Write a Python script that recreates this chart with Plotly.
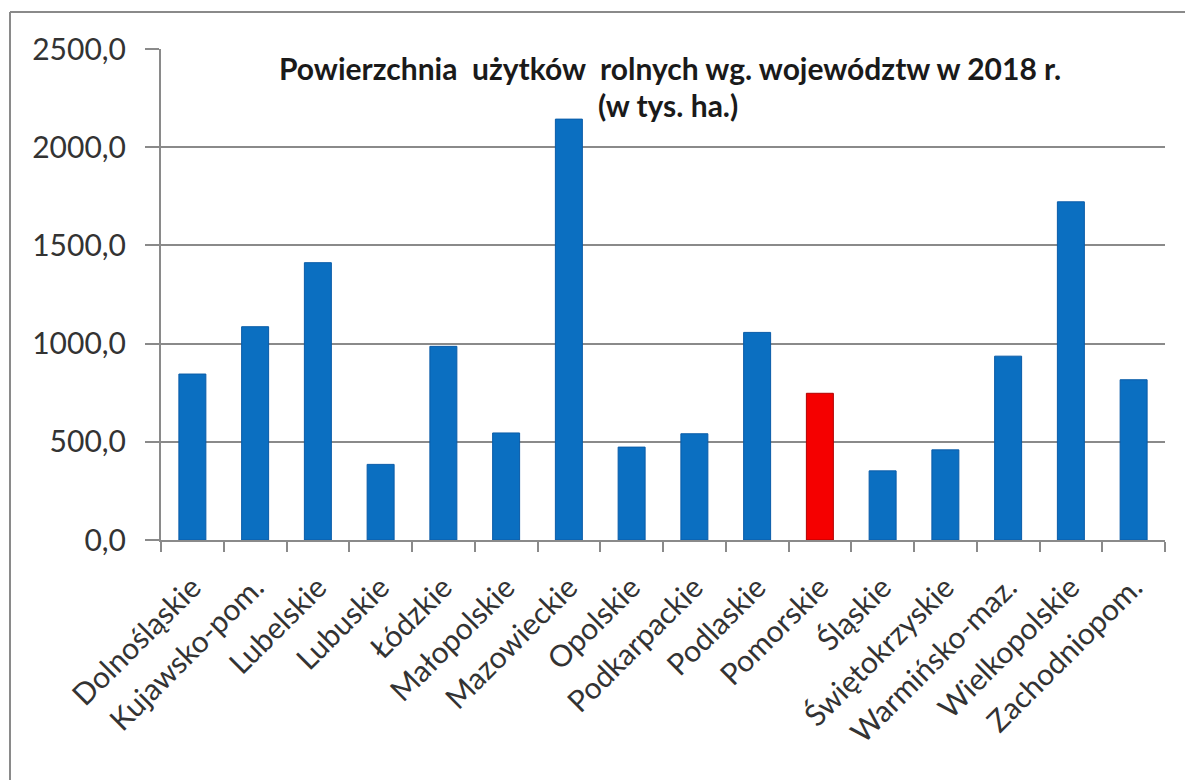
import plotly.graph_objects as go

categories = ["Dolnośląskie", "Kujawsko-pom.", "Lubelskie", "Lubuskie", "Łódzkie",
              "Małopolskie", "Mazowieckie", "Opolskie", "Podkarpackie", "Podlaskie",
              "Pomorskie", "Śląskie", "Świętokrzyskie", "Warmińsko-maz.",
              "Wielkopolskie", "Zachodniopom."]
values = [845, 1086, 1412, 385, 986, 545, 2143, 473, 541, 1057,
          747, 352, 459, 936, 1722, 816]
highlight = "Pomorskie"
y_ticks = [0, 500, 1000, 1500, 2000, 2500]

title_line1 = "Powierzchnia  użytków  rolnych wg. województw w 2018 r."
title_line2 = "(w tys. ha.)"

BLUE = "#0B6FC1"
RED = "#F50000"
colors = [RED if c == highlight else BLUE for c in categories]
edges = ["#B00000" if c == highlight else "#0A5CA8" for c in categories]

# page body has an 8px margin; build the figure in page coordinates
OFF = 8
W, H = 1193 - OFF, 780 - OFF
L, T = 161 - OFF, 49 - OFF
R = W - (1165 - OFF)
B = H - (540 - OFF)
pw, ph = W - L - R, H - T - B

fig = go.Figure(go.Bar(
    x=categories, y=values,
    marker=dict(color=colors, line=dict(color=edges, width=1)),
    width=0.43,
))

def px_x(px):
    return (px - OFF - L) / pw

def px_y(py):
    return (H - B - (py - OFF)) / ph

fig.update_layout(
    width=W, height=H,
    margin=dict(l=L, r=R, t=T, b=B, autoexpand=False),
    paper_bgcolor="white", plot_bgcolor="white",
    separators=", ",
    showlegend=False,
    font=dict(family="Lato", color="#404040"),
    xaxis=dict(
        type="category",
        automargin=False,
        tickangle=-45,
        tickfont=dict(size=30, color="#333333"),
        showline=True, linecolor="#8a8a8a", linewidth=2,
        ticks="outside", ticklen=10, tickcolor="#8a8a8a", tickwidth=2,
        tickson="boundaries",
        ticklabelstandoff=16,
        showgrid=False,
    ),
    yaxis=dict(
        range=[0, 2500],
        automargin=False,
        tickvals=y_ticks,
        tickformat=".1f",
        tickfont=dict(size=30, color="#333333"),
        showline=True, linecolor="#8a8a8a", linewidth=2,
        ticks="outside", ticklen=14, tickcolor="#8a8a8a", tickwidth=2,
        ticklabelstandoff=13,
        showgrid=True, gridcolor="#8a8a8a", gridwidth=2,
        zeroline=False,
    ),
    shapes=[
        dict(type="line", xref="paper", yref="paper",
             x0=px_x(10), x1=px_x(1193 + 20), y0=px_y(12), y1=px_y(12),
             line=dict(color="#8a8a8a", width=2)),
        dict(type="line", xref="paper", yref="paper",
             x0=px_x(10), x1=px_x(10), y0=px_y(12), y1=px_y(780 + 20),
             line=dict(color="#8a8a8a", width=2)),
    ],
    annotations=[
        dict(text="<b>" + title_line1 + "</b>", xref="paper", yref="paper",
             x=px_x(670), y=px_y(68), xanchor="center", yanchor="middle",
             showarrow=False, bgcolor="white",
             font=dict(family="Lato", size=30, color="#1a1a1a")),
        dict(text="<b>" + title_line2 + "</b>", xref="paper", yref="paper",
             x=px_x(668), y=px_y(105), xanchor="center", yanchor="middle",
             showarrow=False,
             font=dict(family="Lato", size=30, color="#1a1a1a")),
    ],
)

fig.write_html("out.html")
